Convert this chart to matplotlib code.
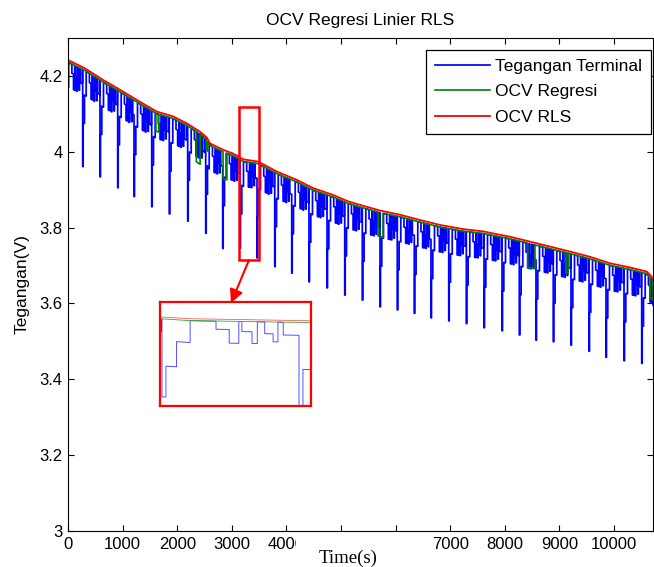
import numpy as np
import matplotlib
matplotlib.use("Agg")
import matplotlib.pyplot as plt
from matplotlib.patches import Rectangle

plt.rcParams['font.family'] = ['Liberation Sans', 'DejaVu Sans']

# ---------------- data ----------------
# OCV RLS (red) trace
ocv_t = [0, 311, 647, 830, 1258, 1624, 1929, 2174, 2418, 2540, 2601, 2845, 3029,
         3211, 3486, 3822, 4189, 4493, 4859, 5134, 5348, 5714, 6081, 6447, 6813,
         7240, 7606, 7912, 8095, 8462, 8828, 9194, 9560, 9927, 10293, 10599, 10714]
ocv_v = [4.242, 4.220, 4.189, 4.174, 4.137, 4.106, 4.093, 4.075, 4.053, 4.038, 4.022,
         4.005, 3.995, 3.980, 3.974, 3.948, 3.926, 3.904, 3.886, 3.869, 3.860, 3.845,
         3.834, 3.820, 3.807, 3.796, 3.790, 3.781, 3.776, 3.763, 3.750, 3.737, 3.723,
         3.706, 3.695, 3.684, 3.667]

# big discharge pulses of the terminal voltage: time and minimum voltage
dip_t = [269, 586, 910, 1209, 1533, 1855, 2192, 2522, 2833, 3150, 3462, 3786, 4097,
         4414, 4744, 5068, 5390, 5714, 6031, 6342, 6648, 6973, 7295, 7619, 7949,
         8266, 8571, 8888, 9212, 9542, 9853, 10183, 10507]
dip_v = [3.961, 3.934, 3.905, 3.882, 3.855, 3.836, 3.817, 3.785, 3.745, 3.746, 3.720,
         3.697, 3.680, 3.657, 3.641, 3.622, 3.609, 3.591, 3.583, 3.574, 3.562, 3.554,
         3.547, 3.536, 3.528, 3.517, 3.503, 3.499, 3.490, 3.474, 3.458, 3.449, 3.442]
cycle_period = 321
t_end = 10714

# one cycle of the load profile:
# segment start time (s after the big pulse) and voltage drop below rest (V)
prof_t = [0, 9, 33, 64, 123, 153, 175, 182, 205, 217, 234, 253, 264, 276, 316]
prof_drop = [None, 0.140, 0.065, 0.0, 0.024, 0.065, 0.0, 0.030, 0.065, 0.0,
             0.035, 0.059, 0.0, 0.038, 0.0]
term_offset = 0.006   # rest level of terminal voltage below OCV RLS

# OCV Regresi (green): offset below the RLS estimate and its excursions
reg_offset = 0.0055
reg_ev_t0 = [1610, 2350, 2530, 2840, 5680, 8420, 9120, 10660]
reg_ev_t1 = [1660, 2420, 2560, 2910, 5770, 8550, 9160, 10714]
reg_ev_drop = [0.047, 0.080, 0.026, 0.070, 0.063, 0.063, 0.053, 0.053]

xticks = [0, 1000, 2000, 3000, 4000, 5000, 6000, 7000, 8000, 9000, 10000]
xtick_labels = ['0', '1000', '2000', '3000', '4000', '', '', '7000', '8000', '9000', '10000']
yticks = [3, 3.2, 3.4, 3.6, 3.8, 4, 4.2]
ytick_labels = ['3', '3.2', '3.4', '3.6', '3.8', '4', '4.2']

# ---------------- build series ----------------
def ocv(t):
    return np.interp(t, ocv_t, ocv_v)

bt, bv = [], []
starts = [dip_t[0] - cycle_period] + dip_t
ends = dip_t + [t_end]
for k, (ts, te) in enumerate(zip(starts, ends)):
    for i, rel in enumerate(prof_t):
        s = max(ts + rel, 0)
        e = ts + (prof_t[i + 1] if i + 1 < len(prof_t) else 1e9)
        e = min(e, te)
        if s >= e:
            continue
        if prof_drop[i] is None:
            if k == 0:
                continue
            ls = le = dip_v[k - 1]
        else:
            ls = ocv(s) - term_offset - prof_drop[i]
            le = ocv(e) - term_offset - prof_drop[i]
        bt += [s, e]
        bv += [ls, le]

pts = []
for t, v in zip(ocv_t, ocv_v):
    if any(a <= t <= b for a, b in zip(reg_ev_t0, reg_ev_t1)):
        continue
    pts.append((t, 0, v - reg_offset))
for a, b, d in zip(reg_ev_t0, reg_ev_t1, reg_ev_drop):
    ba = ocv(a) - reg_offset
    bb = ocv(b) - reg_offset
    pts += [(a, 1, ba), (a, 2, ba - d), (b, 3, bb - d), (b, 4, bb)]
pts.sort(key=lambda p: (p[0], p[1]))
gt = [p[0] for p in pts]
gv = [p[2] for p in pts]

# ---------------- figure ----------------
fig = plt.figure(figsize=(6.54, 5.67), dpi=100)
ax = fig.add_axes([68 / 654, 36 / 567, 585 / 654, 493 / 567])

ax.plot(bt, bv, color=(0, 0, 1), lw=1.25, label='Tegangan Terminal')
ax.plot(gt, gv, color=(0, 0.5, 0), lw=1.2, label='OCV Regresi')
ax.plot(ocv_t, ocv_v, color=(1, 0, 0), lw=1.3, label='OCV RLS')

ax.set_xlim(0, t_end)
ax.set_ylim(3, 4.3)
ax.set_xticks(xticks)
ax.set_xticklabels(xtick_labels)
ax.set_yticks(yticks)
ax.set_yticklabels(ytick_labels)
ax.tick_params(direction='in', length=4.5, width=0.8, top=True, right=True,
               labelsize=12, pad=4)
for sp in ax.spines.values():
    sp.set_linewidth(0.8)
ax.set_title('OCV Regresi Linier RLS', fontsize=12.5, pad=9)
ax.set_ylabel('Tegangan(V)', fontsize=12.5)
ax.yaxis.set_label_coords(-0.066, 0.5)

leg = ax.legend(loc='upper right', bbox_to_anchor=(0.9966, 0.9757), borderaxespad=0,
                fancybox=False, framealpha=1, edgecolor='black', fontsize=12.5,
                handlelength=3.2, handletextpad=0.3, labelspacing=0.6,
                borderpad=0.5)
leg.get_frame().set_linewidth(0.9)

# highlight box and arrow
ax.add_patch(Rectangle((3137, 3.7145), 367, 0.4025, fill=False, edgecolor='red',
                       lw=1.8, zorder=5))
ax.annotate('', xy=(2985, 3.601), xytext=(3315, 3.7145),
            arrowprops=dict(arrowstyle='-|>', color='red', lw=1.5,
                            mutation_scale=20, shrinkA=0, shrinkB=0),
            annotation_clip=False, zorder=6)

# inset
iax = fig.add_axes([160 / 654, (567 - 406) / 567, 151 / 654, 104 / 567])
iax.plot(bt, bv, color=(0.2, 0.2, 1), lw=0.6)
iax.plot(gt, gv, color=(0.2, 0.65, 0.2), lw=0.6)
iax.plot(ocv_t, ocv_v, color=(1, 0.35, 0.35), lw=0.6)
span = (dip_t[10] - dip_t[9]) * 151 / 137
x0 = dip_t[9] - 2 / 151 * span
iax.set_xlim(x0, x0 + span)
iax.set_ylim(3.719, 4.030)
iax.set_xticks([])
iax.set_yticks([])
for sp in iax.spines.values():
    sp.set_color('red')
    sp.set_linewidth(1.6)

# white patch hiding part of the x tick labels, and the x label
fig.add_artist(Rectangle((296 / 654, 0), 132 / 654, 31 / 567, transform=fig.transFigure,
                         facecolor='white', edgecolor='none', zorder=10))
fig.text(348 / 654, 4 / 567, 'Time(s)', family=['Liberation Serif', 'DejaVu Serif'],
         fontsize=13.5, ha='center', va='baseline', zorder=11)

fig.savefig('out.png', dpi=100)
